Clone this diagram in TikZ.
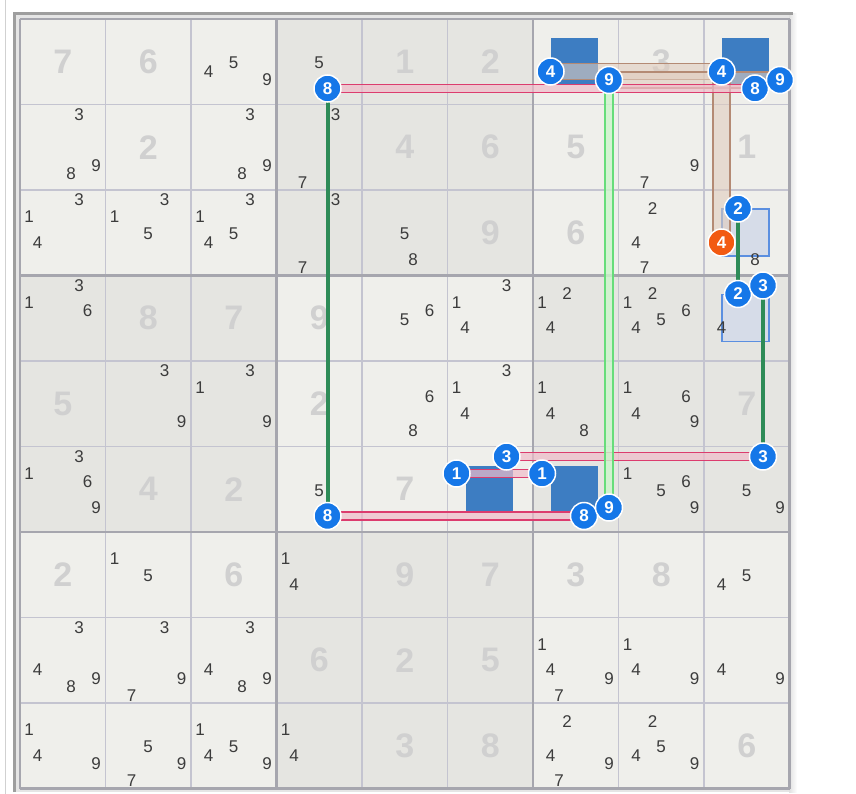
\documentclass[tikz,border=0pt]{standalone}
\usepackage{fontspec}
\setmainfont{Liberation Sans}
\usetikzlibrary{calc}

\definecolor{bglight}{HTML}{EFEFEB}
\definecolor{bgdark}{HTML}{E5E5E1}
\definecolor{thinline}{HTML}{C4C4D0}
\definecolor{boxline}{HTML}{A6A6AE}
\definecolor{givengray}{HTML}{D0D0D0}
\definecolor{candgray}{HTML}{3C3C3C}
\definecolor{markblue}{HTML}{3D7DC2}
\definecolor{softblue}{HTML}{D6DCE8}
\definecolor{softedge}{HTML}{5B8FE0}
\definecolor{dotblue}{HTML}{1577E8}
\definecolor{dotorange}{HTML}{F25A12}
\definecolor{pinkrim}{HTML}{DC3C6E}
\definecolor{pinkfill}{HTML}{F0BCCA}
\definecolor{brownrim}{HTML}{B48A74}
\definecolor{brownfill}{HTML}{E0CCBE}
\definecolor{linkgreen}{HTML}{2E8B57}
\definecolor{palerim}{HTML}{66DD7A}
\definecolor{palefill}{HTML}{CCF5CC}

% position of candidate d in cell (r,c) -> \px,\py
\newcommand\setcpos[3]{%
  \pgfmathsetmacro\px{20+85.5*(#2-1)+9+25*mod(#3-1,3)+8.5*div(#3-1,3)}%
  \pgfmathsetmacro\py{19+85.5*(#1-1)+27+25.5*div(#3-1,3)-8.5*mod(#3-1,3)}}

\begin{document}
\begin{tikzpicture}[x=1pt,y=-1pt,
cand/.style={text=candgray,font=\fontsize{17}{17}\selectfont,inner sep=0pt},
given/.style={text=givengray,font=\fontsize{34}{34}\selectfont\bfseries,inner sep=0pt},
candot/.style={circle,fill=dotblue,draw=white,line width=1.5pt,minimum size=27pt,inner sep=0pt,text=white,font=\fontsize{17}{17}\selectfont\bfseries},
hotdot/.style={candot,fill=dotorange},
markbox/.style={fill=markblue},
softbox/.style={fill=softblue,draw=softedge,line width=1.2pt},
thingrid/.style={draw=thinline,line width=1.5pt},
boxgrid/.style={draw=boxline,line width=2.5pt},
strong/.style={draw=linkgreen,line width=4pt},
pinkband/.style={draw=pinkfill,line width=8pt,draw opacity=0.7},
pinkedge/.style={draw=pinkrim,line width=1.2pt},
paleband/.style={draw=palefill,line width=8pt,draw opacity=0.8},
paleedge/.style={draw=palerim,line width=1.2pt},
brownband/.style={draw=brownfill,line width=16pt,draw opacity=0.6},
brownedge/.style={draw=brownrim,line width=1.2pt}]
\useasboundingbox (0,0) rectangle (856,794);
\fill[white] (0,0) rectangle (856,794);
\draw[black!18,line width=1pt] (5,0) -- (5,794);

% frame
\fill[black!10] (13,13) rectangle (792,792);
\shade[left color=black!12,right color=white] (789,14) rectangle (797,792);
\draw[black!38,line width=3pt] (14,792) -- (14,14) -- (793,14);
\fill[bglight] (20,19) rectangle (789.5,788.5);
\foreach \br/\bc in {0/1,1/0,1/2,2/1}
  \fill[bgdark] ({20+256.5*\bc},{19+256.5*\br}) rectangle ++(256.5,256.5);
\draw[dotblue,line width=2pt] (20,77) -- (20,87);

% grid
\foreach \i in {1,2,4,5,7,8} {
  \draw[thingrid] ({20+85.5*\i},19) -- ({20+85.5*\i},788.5);
  \draw[thingrid] (20,{19+85.5*\i}) -- (789.5,{19+85.5*\i});
}
\foreach \i in {0,3,6,9} {
  \draw[boxgrid] ({20+85.5*\i},19) -- ({20+85.5*\i},788.5);
  \draw[boxgrid] (20,{19+85.5*\i}) -- (789.5,{19+85.5*\i});
}

% marked cells
\foreach \r/\c in {1/7,1/9,6/6,6/7}
  \fill[markbox] ({20+85.5*(\c-1)+18},{19+85.5*(\r-1)+19}) rectangle ++(47,47);
\foreach \r/\c in {3/9,4/9}
  \draw[softbox] ({20+85.5*(\c-1)+18},{19+85.5*(\r-1)+19}) rectangle ++(47,47);

% solved cells
\foreach \r/\c/\v in {1/1/7,1/2/6,1/5/1,1/6/2,1/8/3,
  2/2/2,2/5/4,2/6/6,2/7/5,2/9/1,
  3/6/9,3/7/6,
  4/2/8,4/3/7,4/4/9,
  5/1/5,5/4/2,5/9/7,
  6/2/4,6/3/2,6/5/7,
  7/1/2,7/3/6,7/5/9,7/6/7,7/7/3,7/8/8,
  8/4/6,8/5/2,8/6/5,
  9/5/3,9/6/8,9/9/6}
  \node[given] (g\r\c) at ({20+85.5*(\c-0.5)},{19+85.5*(\r-0.5)}) {\v};

% candidates
\foreach \r/\c/\ds in {1/3/{4,5,9},1/4/{5},
  2/1/{3,8,9},2/3/{3,8,9},2/4/{3,7},2/8/{7,9},
  3/1/{1,3,4},3/2/{1,3,5},3/3/{1,3,4,5},3/4/{3,7},3/5/{5,8},3/8/{2,4,7},3/9/{8},
  4/1/{1,3,6},4/5/{5,6},4/6/{1,3,4},4/7/{1,2,4},4/8/{1,2,4,5,6},4/9/{4},
  5/2/{3,9},5/3/{1,3,9},5/5/{6,8},5/6/{1,3,4},5/7/{1,4,8},5/8/{1,4,6,9},
  6/1/{1,3,6,9},6/4/{5},6/8/{1,5,6,9},6/9/{5,9},
  7/2/{1,5},7/4/{1,4},7/9/{4,5},
  8/1/{3,4,8,9},8/2/{3,7,9},8/3/{3,4,8,9},8/7/{1,4,7,9},8/8/{1,4,9},8/9/{4,9},
  9/1/{1,4,9},9/2/{5,7,9},9/3/{1,4,5,9},9/4/{1,4},9/7/{2,4,7,9},9/8/{2,4,5,9}}
  \foreach \d in \ds {
    \setcpos{\r}{\c}{\d}
    \node[cand] (k\r\c\d) at (\px,\py) {\d};
  }

% link ends
\foreach \r/\c/\d in {1/4/8,1/7/4,1/7/9,1/9/4,1/9/8,1/9/9,3/9/2,3/9/4,4/9/2,4/9/3,
  6/4/8,6/6/1,6/6/3,6/7/1,6/7/8,6/7/9,6/9/3} {
  \setcpos{\r}{\c}{\d}
  \coordinate (l\r\c\d) at (\px,\py);
}

% weak links
\foreach \a/\b in {l174/l194,l179/l199} {
  \draw[brownband] (\a) -- (\b);
  \draw[brownedge] ([yshift=8pt]\a) -- ([yshift=8pt]\b);
  \draw[brownedge] ([yshift=-8pt]\a) -- ([yshift=-8pt]\b);
}
\draw[brownband] (l194) -- (l394);
\draw[brownedge] ([xshift=-8.5pt]l194) -- ([xshift=-8.5pt]l394);
\draw[brownedge] ([xshift=8.5pt]l194) -- ([xshift=8.5pt]l394);
\foreach \a/\b in {l148/l198,l648/l678,l663/l693,l661/l671} {
  \draw[pinkband] (\a) -- (\b);
  \draw[pinkedge] ([yshift=4pt]\a) -- ([yshift=4pt]\b);
  \draw[pinkedge] ([yshift=-4pt]\a) -- ([yshift=-4pt]\b);
}
\draw[paleband] (l179) -- (l679);
\draw[paleedge] ([xshift=-4pt]l179) -- ([xshift=-4pt]l679);
\draw[paleedge] ([xshift=4pt]l179) -- ([xshift=4pt]l679);

% strong links
\draw[strong] (l148) -- (l648);
\draw[strong] (l392) -- (l492);
\draw[strong] (l493) -- (l693);

% chain candidates
\foreach \r/\c/\d in {1/4/8,1/7/4,1/7/9,1/9/4,1/9/8,1/9/9,3/9/2,4/9/2,4/9/3,
  6/4/8,6/6/1,6/6/3,6/7/1,6/7/8,6/7/9,6/9/3}
  \node[candot] (b\r\c\d) at (l\r\c\d) {\d};
\node[hotdot] (b394) at (l394) {4};
\end{tikzpicture}
\end{document}
